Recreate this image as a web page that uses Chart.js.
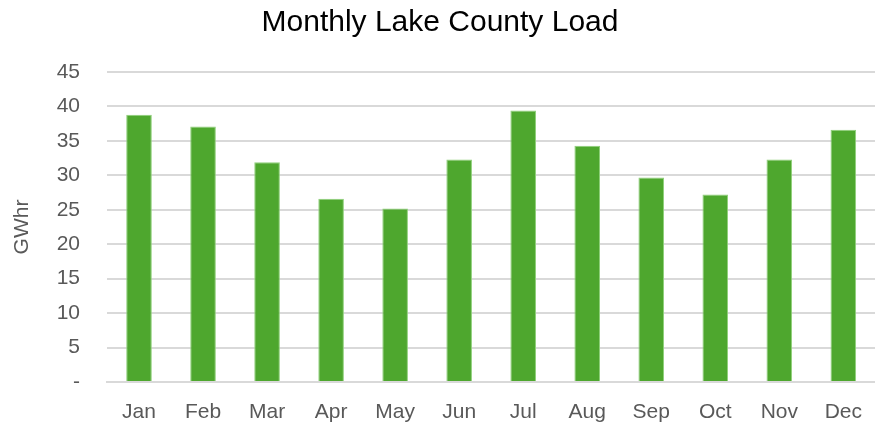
<!DOCTYPE html>
<html>
<head>
<meta charset="utf-8">
<script src="https://cdn.jsdelivr.net/npm/chart.js@4.4.1/dist/chart.umd.min.js"></script>
<style>
html,body{margin:0;padding:0;background:#fff;overflow:hidden;}
#wrap{position:absolute;left:0;top:0;width:880px;height:425px;}
canvas{display:block;}
</style>
</head>
<body>
<div id="wrap"><canvas id="myChart" width="880" height="425"></canvas></div>
<script>
// monthly load values, GWhr
var months=['Jan','Feb','Mar','Apr','May','Jun','Jul','Aug','Sep','Oct','Nov','Dec'];
var load=[38.8,37.1,31.9,26.6,25.2,32.3,39.4,34.3,29.7,27.2,32.3,36.6];
var yTicks=[0,5,10,15,20,25,30,35,40,45];

var ctx=document.querySelector('#myChart').getContext('2d');
var myChart=new Chart(ctx,{
    type:'bar',
    data:{
        labels:months,
        datasets:[{
            label:'Load',
            data:load,
            backgroundColor:'#4ea72e',
            borderColor:'#8fd07a',
            borderWidth:{left:1,right:1,top:1,bottom:0},
            barPercentage:0.4,
            categoryPercentage:1
        }]
    },
    options:{
        responsive:false,
        animation:false,
        layout:{padding:{left:0,right:0,top:5,bottom:0}},
        plugins:{
            legend:{display:false},
            tooltip:{enabled:false},
            title:{
                display:true,
                text:'Monthly Lake County Load',
                color:'#000',
                font:{family:'Liberation Sans',size:30,weight:'normal'},
                padding:{top:0,bottom:31}
            }
        },
        scales:{
            x:{
                grid:{display:false,drawTicks:false},
                border:{color:'#d9d9d9',width:2},
                ticks:{color:'#595959',padding:18,autoSkip:false,maxRotation:0,minRotation:0,font:{family:'Liberation Sans',size:21}},
                afterFit:function(axis){axis.height=43;}
            },
            y:{
                min:0,max:45,
                afterBuildTicks:function(axis){axis.ticks=yTicks.map(function(v){return {value:v};});},
                afterFit:function(axis){axis.width=107;},
                grid:{color:'#d9d9d9',lineWidth:2,drawTicks:false},
                border:{display:false},
                title:{display:true,text:'GWhr',color:'#595959',font:{family:'Liberation Sans',size:21},padding:{top:10,bottom:0}},
                ticks:{
                    color:'#595959',padding:27,
                    font:{family:'Liberation Sans',size:21},
                    callback:function(v){return v===0?'-':v;}
                }
            }
        }
    }
});
</script>
</body>
</html>
